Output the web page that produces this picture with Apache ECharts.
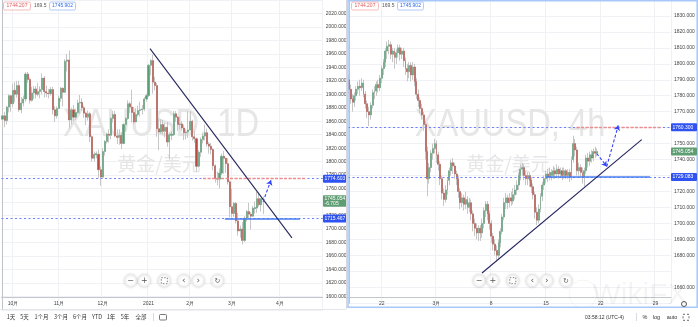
<!DOCTYPE html>
<html><head><meta charset="utf-8">
<script src="https://cdn.jsdelivr.net/npm/echarts@6/dist/echarts.min.js"></script>
<style>html,body{margin:0;padding:0;background:#fff;overflow:hidden}#c{width:698px;height:327px}</style>
</head><body><div id="c"></div>
<script>
// ---------- DATA ----------
// Daily XAUUSD, 2020-09-24 .. 2021-03-22 : [open, close, low, high]
const dailyOHLC = [
[1863,1868,1849,1882],[1868,1861,1851,1874],[1861,1881,1855,1883],[1881,1898,1873,1900],[1898,1886,1874,1899],
[1886,1906,1881,1916],[1906,1900,1888,1918],[1900,1913,1895,1920],[1913,1877,1874,1920],[1877,1887,1872,1896],
[1887,1893,1882,1898],[1893,1930,1889,1933],[1930,1922,1917,1933],[1922,1891,1886,1925],[1891,1902,1889,1911],
[1902,1908,1893,1912],[1908,1900,1894,1912],[1900,1904,1897,1917],[1904,1907,1894,1912],[1907,1924,1900,1931],
[1924,1904,1895,1927],[1904,1902,1896,1913],[1902,1901,1894,1908],[1901,1907,1898,1911],[1907,1877,1870,1911],
[1877,1868,1859,1882],[1868,1879,1864,1882],[1879,1894,1879,1898],[1894,1909,1889,1911],[1909,1903,1882,1910],
[1903,1949,1902,1952],[1949,1951,1934,1960],[1951,1862,1849,1965],[1862,1877,1855,1880],[1877,1866,1860,1884],
[1866,1873,1862,1878],[1873,1887,1871,1892],[1887,1888,1871,1899],[1888,1880,1876,1894],[1880,1872,1865,1883],
[1872,1866,1854,1874],[1866,1871,1861,1876],[1871,1837,1829,1874],[1837,1805,1800,1839],[1805,1811,1800,1815],
[1810,1812,1805,1815],[1811,1788,1775,1818],[1788,1777,1764,1793],[1777,1815,1775,1820],[1815,1830,1809,1832],
[1830,1841,1827,1843],[1841,1839,1828,1848],[1839,1864,1833,1866],[1864,1870,1858,1875],[1870,1838,1836,1875],
[1838,1836,1826,1848],[1836,1839,1825,1848],[1839,1827,1819,1843],[1827,1855,1826,1857],[1855,1864,1845,1866],
[1864,1886,1862,1891],[1886,1881,1872,1889],[1881,1873,1858,1907],[1873,1859,1855,1881],[1859,1870,1858,1879],
[1870,1876,1867,1883],[1876,1877,1867,1889],[1877,1878,1870,1884],[1878,1893,1875,1896],[1893,1898,1889,1901],
[1898,1943,1896,1945],[1943,1950,1928,1952],[1950,1918,1901,1959],[1918,1913,1906,1926],[1913,1849,1837,1917],
[1849,1844,1817,1864],[1844,1855,1841,1863],[1855,1845,1840,1862],[1845,1851,1836,1857],[1851,1829,1822,1859],
[1829,1840,1803,1843],[1839,1841,1832,1845],[1840,1871,1838,1875],[1871,1866,1859,1875],[1866,1855,1846,1868],
[1855,1856,1848,1867],[1856,1850,1846,1860],[1850,1843,1832,1855],[1843,1844,1833,1848],[1844,1847,1835,1875],
[1847,1860,1846,1875],[1860,1837,1831,1862],[1837,1834,1828,1846],[1834,1793,1785,1836],[1793,1814,1791,1817],
[1814,1833,1807,1836],[1833,1838,1827,1842],[1838,1843,1832,1855],[1843,1826,1822,1849],[1826,1823,1812,1829],
[1823,1818,1811,1828],[1818,1794,1787,1820],[1794,1775,1769,1796],[1775,1774,1765,1785],[1774,1783,1760,1790],
[1783,1808,1780,1812],[1808,1805,1782,1816],[1805,1797,1783,1806],[1797,1770,1766,1805],[1770,1733,1717,1772],
[1733,1723,1717,1760],[1723,1738,1718,1740],[1738,1712,1708,1740],[1712,1697,1690,1724],[1697,1700,1687,1705],
[1700,1683,1677,1710],[1683,1716,1681,1719],[1716,1726,1711,1728],[1726,1722,1715,1739],[1722,1719,1699,1725],
[1719,1731,1718,1734],[1730,1732,1723,1741],[1731,1745,1724,1755],[1745,1736,1733,1754],[1736,1745,1726,1746],
[1744,1745.054,1722,1748]
];
// 4h XAUUSD, 2021-02-17 .. 2021-03-19 : [open, close, low, high]
const h4OHLC = [
[1790,1784,1781,1793],[1784,1778,1775,1787],[1778,1776,1770,1781],[1776,1780,1773,1782],[1780,1784,1777,1786],
[1784,1786,1781,1789],[1786,1785,1780,1790],[1785,1788,1783,1791],[1788,1781,1779,1790],[1781,1775,1772,1783],
[1775,1770,1766,1777],[1770,1768,1761,1773],[1768,1774,1765,1776],[1774,1782,1772,1784],[1782,1783,1778,1786],
[1783,1787,1780,1789],[1787,1785,1782,1790],[1785,1791,1783,1793],[1791,1797,1788,1799],[1797,1801,1793,1803],
[1801,1808,1798,1810],[1808,1811,1803,1814],[1811,1812,1806,1815],[1812,1806,1803,1814],[1806,1808,1801,1810],
[1808,1804,1797,1810],[1804,1807,1800,1809],[1807,1810,1804,1812],[1810,1806,1802,1812],[1806,1808,1803,1810],
[1808,1802,1798,1810],[1802,1797,1793,1804],[1797,1795,1789,1800],[1795,1799,1791,1801],[1799,1793,1789,1801],
[1793,1798,1790,1801],[1798,1789,1786,1800],[1789,1781,1778,1791],[1781,1777,1773,1784],[1777,1772,1769,1779],
[1772,1768,1765,1775],[1768,1762,1758,1770],[1762,1745,1740,1764],[1745,1728,1717,1748],[1728,1735,1725,1738],
[1735,1744,1732,1746],[1744,1747,1740,1750],[1747,1750,1744,1753],[1750,1743,1738,1752],[1743,1737,1733,1745],
[1737,1728,1724,1739],[1728,1719,1715,1730],[1719,1715,1711,1722],[1715,1721,1713,1724],[1721,1727,1718,1729],
[1727,1733,1724,1735],[1733,1738,1730,1740],[1738,1736,1731,1741],[1736,1731,1728,1738],[1731,1728,1724,1733],
[1728,1720,1716,1730],[1720,1713,1709,1722],[1713,1716,1710,1719],[1716,1712,1708,1718],[1712,1715,1709,1720],
[1715,1710,1706,1717],[1710,1713,1707,1716],[1713,1706,1702,1715],[1706,1700,1695,1708],[1700,1697,1692,1703],
[1697,1694,1690,1700],[1694,1697,1689,1699],[1697,1694,1689,1699],[1694,1700,1691,1703],[1700,1708,1697,1710],
[1708,1712,1704,1714],[1712,1706,1702,1714],[1706,1700,1696,1708],[1700,1692,1688,1702],[1692,1687,1683,1694],
[1687,1683,1680,1690],[1683,1680,1677,1686],[1680,1688,1678,1690],[1688,1695,1685,1697],[1695,1704,1693,1706],
[1704,1713,1702,1716],[1713,1716,1709,1719],[1716,1713,1709,1718],[1713,1716,1710,1719],[1716,1714,1711,1720],
[1714,1718,1712,1722],[1718,1721,1715,1724],[1721,1724,1718,1727],[1724,1730,1721,1732],[1730,1734,1727,1737],
[1734,1735,1730,1738],[1735,1730,1727,1737],[1730,1728,1724,1733],[1728,1730,1724,1732],[1730,1727,1723,1732],
[1727,1723,1719,1729],[1723,1718,1715,1725],[1718,1707,1703,1720],[1707,1702,1699,1710],[1702,1709,1700,1712],
[1709,1717,1707,1719],[1717,1724,1714,1726],[1724,1728,1721,1730],[1728,1731,1725,1733],[1731,1729,1726,1734],
[1729,1732,1727,1735],[1732,1730,1727,1734],[1730,1733,1728,1736],[1733,1731,1728,1735],[1731,1734,1729,1737],
[1734,1731,1728,1736],[1731,1733,1729,1735],[1733,1730,1727,1735],[1730,1733,1728,1735],[1733,1730,1728,1734],
[1730,1732,1728,1734],[1732,1729,1726,1734],[1729,1740,1727,1742],[1740,1750,1738,1755],[1750,1746,1742,1753],
[1746,1733,1730,1748],[1733,1735,1730,1738],[1735,1732,1729,1737],[1732,1729,1725,1735],[1729,1733,1723,1735],
[1733,1741,1731,1743],[1741,1739,1735,1744],[1739,1743,1736,1745],[1743,1741,1738,1746],[1741,1745,1739,1747],
[1745,1744,1741,1748],[1744,1745.054,1742,1747]
];
// time-axis tick labels: [bar index, label]
const dailyTimeTicks = [[5,'10月'],[27,'11月'],[48,'12月'],[70,'2021'],[90,'2月'],[110,'3月'],[133,'4月']];
const h4TimeTicks = [[18,'22'],[48,'3月'],[78,'8'],[108,'15'],[138,'22'],[168,'29']];
const dailySlots = 154, h4Slots = 177;
// price ticks
const dailyPriceRange = [1600, 2020], dailyPriceStep = 20;
const h4PriceRange = [1660, 1830], h4PriceStep = 10, h4HiddenTicks = [1670];
// levels & drawings
const dailyResistance = 1774.603, dailySupport = 1715.467, dailyLast = 1745.054, dailyChange = -6.705;
const h4Resistance = 1760.300, h4Support = 1729.083, h4Last = 1745.054;
const dailyTrend = [[70.69,1967.9],[138.76,1686.9]];
const dailyResSeg = [96.1,145.5], dailySupSeg = [106.6,142.6];
const dailyArrow = [[124.9,1740.5],[128.7,1772.35]];
const h4Trend = [[72.93,1668.9],[160.44,1752.5]];
const h4ResSeg = [124.7,171.3], h4SupSeg = [108.0,165.0];
const h4Arrow1 = [[135.8,1743.8],[141.3,1735.7]];
const h4Arrow2 = [[141.3,1735.7],[147.6,1761.4]];
const badge = {bid:'1744.207', spread:'169.5', ask:'1745.902'};

// ---------- CHART ----------
const FONT = '"Liberation Sans", Arial, sans-serif';
const CJK = '"Noto Sans CJK SC", sans-serif';
const upC = '#55a074', dnC = '#b84a40', wickC = '#c6c6c6';
const chart = echarts.init(document.getElementById('c'));
const bodies = a => a.map(d => [d[0], d[1], Math.min(d[0], d[1]), Math.max(d[0], d[1])]);

function xCat(grid, n, ticks, offset) {
  const m = new Map(ticks);
  return {type:'category', gridIndex:grid, data:Array.from({length:n}, (_, i) => String(i)), boundaryGap:true, offset,
    axisLine:{lineStyle:{color:'#c3c6cc', width:1}}, axisTick:{show:false},
    axisLabel:{interval:i => m.has(i), formatter:(v) => m.get(Number(v)) || '', fontSize:5, color:'#444', margin:4.5, fontFamily:FONT},
    splitLine:{show:true, interval:i => m.has(i), lineStyle:{color:'#eff1f5', width:1}}};
}
function yVal(grid, range, step, hidden) {
  return {type:'value', gridIndex:grid, position:'right', min:range[0]-step, max:range[1]+step, interval:step,
    axisLine:{show:true, lineStyle:{color:'#bfc2c8'}}, axisTick:{show:false},
    axisLabel:{fontSize:5, color:'#444', margin:3, fontFamily:FONT, showMinLabel:false, showMaxLabel:false,
      formatter:v => (v < range[0] || v > range[1] || hidden.includes(v)) ? '' : v.toFixed(3)},
    splitLine:{lineStyle:{color:'#eff1f5'}}};
}
function candles(xi, yi, data, w) {
  return [
    {type:'candlestick', xAxisIndex:xi, yAxisIndex:yi, data:data, barWidth:w, z:2,
     itemStyle:{color:wickC, color0:wickC, borderColor:wickC, borderColor0:wickC, borderWidth:1}},
    {type:'candlestick', xAxisIndex:xi, yAxisIndex:yi, data:bodies(data), barWidth:w, z:3,
     itemStyle:{color:upC, color0:dnC, borderColor:upC, borderColor0:dnC, borderColor:upC, borderWidth:0.3}}
  ];
}
function seg(xi, yi, coords, color, width, type, arrow) {
  return {type:'lines', coordinateSystem:'cartesian2d', xAxisIndex:xi, yAxisIndex:yi, z:4,
    symbol: arrow ? ['none','arrow'] : 'none', symbolSize:5, silent:true,
    lineStyle:{color, width, type, opacity:1}, data:[{coords}]};
}
const dotBlue = '#6f7dff', solidBlue = '#4a7ef2', redDash = '#ef8d8d', trendC = '#26265e', arrowC = '#3344ff';

const option = {
  animation:false,
  grid:[
    {left:1.5, top:-7.81, width:321.2, height:317.6},
    {left:348, top:-10.51, width:323, height:313.7}
  ],
  xAxis:[
    xCat(0, dailySlots, dailyTimeTicks, -12.8),
    xCat(1, h4Slots, h4TimeTicks, -6.2),
    {type:'value', gridIndex:0, min:-0.5, max:dailySlots-0.5, show:false},
    {type:'value', gridIndex:1, min:-0.5, max:h4Slots-0.5, show:false}
  ],
  yAxis:[ yVal(0, dailyPriceRange, dailyPriceStep, []), yVal(1, h4PriceRange, h4PriceStep, h4HiddenTicks) ],
  series:[
    ...candles(0, 0, dailyOHLC, 1.6),
    ...candles(1, 1, h4OHLC, 1.4),
    seg(2,0,[[-0.5,dailyResistance],[dailySlots-0.5,dailyResistance]], dotBlue, 1, [2,2.5]),
    seg(2,0,[[-0.5,dailySupport],[dailySlots-0.5,dailySupport]], dotBlue, 1, [2,2.5]),
    seg(2,0,[[dailyResSeg[0],dailyResistance],[dailyResSeg[1],dailyResistance]], redDash, 1.4, [3,1.5]),
    seg(2,0,[[dailySupSeg[0],dailySupport],[dailySupSeg[1],dailySupport]], solidBlue, 1.6, 'solid'),
    seg(2,0,dailyTrend, trendC, 1.1, 'solid'),
    seg(2,0,dailyArrow, arrowC, 1.1, [3,2], true),
    seg(3,1,[[-0.5,h4Resistance],[h4Slots-0.5,h4Resistance]], dotBlue, 1, [2,2.5]),
    seg(3,1,[[-0.5,h4Support],[h4Slots-0.5,h4Support]], dotBlue, 1, [2,2.5]),
    seg(3,1,[[h4ResSeg[0],h4Resistance],[h4ResSeg[1],h4Resistance]], redDash, 1.4, [3,1.5]),
    seg(3,1,[[h4SupSeg[0],h4Support],[h4SupSeg[1],h4Support]], solidBlue, 1.6, 'solid'),
    seg(3,1,h4Trend, trendC, 1.1, 'solid'),
    seg(3,1,h4Arrow1, arrowC, 1.1, [3,2], true),
    seg(3,1,h4Arrow2, arrowC, 1.1, [3,2], true)
  ]
};
chart.setOption(option);

// ---------- DECORATIONS (positions from library scales) ----------
const py = (ax, v) => chart.convertToPixel({yAxisIndex:ax}, v);
const G = [];
function txt(x, y, text, size, fill, align, font, z, extra) {
  G.push(Object.assign({type:'text', x, y, z:z==null?100:z, silent:true,
    style:{text, fill, font:size+'px '+(font||FONT), textAlign:align||'left', textVerticalAlign:'middle', align:align||'left', verticalAlign:'middle'}}, extra||{}));
}
function rect(x, y, w, h, fill, stroke, r, z, lw, dash) {
  G.push({type:'rect', z:z==null?100:z, silent:true, shape:{x, y, width:w, height:h, r:r||0},
    style:{fill:fill||'none', stroke:stroke||'none', lineWidth:lw||1, lineDash:dash||null}});
}
function line(x1, y1, x2, y2, stroke, lw, z) {
  G.push({type:'line', z:z==null?100:z, silent:true, shape:{x1, y1, x2, y2}, style:{stroke, lineWidth:lw||1}});
}
function circle(cx, cy, r, fill, stroke, z, shadow) {
  G.push({type:'circle', z:z==null?100:z, silent:true, shape:{cx, cy, r},
    style:Object.assign({fill:fill||'none', stroke:stroke||'none', lineWidth:1}, shadow?{shadowBlur:3, shadowColor:'rgba(0,0,0,0.18)'}:{})});
}
function priceBox(x, w, y, text, fill) { rect(x, y-4, w, 8, fill, null, 1); txt(x+1.5, y, text, 5, '#fff'); }

// watermarks
[[161,'XAUUSD, 1D'],[510,'XAUUSD, 4h']].forEach(([cx, t]) => {
  txt(cx, 126, t, 38, '#e6e6e6', 'center', FONT, 1, {scaleX:0.86});
  txt(cx-2, 164, '黄金/美元', 19, '#e6e6e6', 'center', CJK, 1);
});
txt(640, 296, 'WikiFX', 30, 'rgba(0,0,0,0.045)', 'center', FONT, 1);
circle(583, 294, 14, null, 'rgba(0,0,0,0.045)', 1);

// price boxes
priceBox(323, 23.5, py(0, dailyResistance), dailyResistance.toFixed(3), '#2f52f2');
priceBox(323, 23.5, py(0, dailySupport), dailySupport.toFixed(3), '#2f52f2');
{ const y = py(0, dailyLast); rect(323, y-3.5, 23.5, 11.5, '#5f9d72', null, 1);
  txt(324.5, y, dailyLast.toFixed(3), 5, '#fff'); txt(324.5, y+5, dailyChange.toFixed(3), 5, '#fff'); }
priceBox(671, 26, py(1, h4Resistance), h4Resistance.toFixed(3), '#2f52f2');
priceBox(671, 26, py(1, h4Support), h4Support.toFixed(3), '#2f52f2');
priceBox(671, 26, py(1, h4Last), h4Last.toFixed(3), '#5f9d72');

// top-left badges
[0, 348].forEach(o => {
  rect(o+3.5, 2, 27, 8, '#fff', '#f3a9a9', 1.5, 100, 0.8); txt(o+17, 6, badge.bid, 5, '#e05a5a', 'center');
  txt(o+34, 6, badge.spread, 5, '#555');
  rect(o+49.5, 2, 26, 8, '#fff', '#9dbdf5', 1.5, 100, 0.8); txt(o+62.5, 6, badge.ask, 5, '#2f6bea', 'center');
});

// navigation buttons
[0, 348.5].forEach(o => {
  const xs = [130.7,144.3,164.3,183.7,198.3,217.5].map(v => v+o), y = 280.7;
  xs.forEach(x => circle(x, y, 6, '#fff', '#ececec', 100, true));
  txt(xs[0], y, '−', 8, '#555', 'center', 'DejaVu Sans', 101);
  txt(xs[1], y, '+', 8, '#555', 'center', 'DejaVu Sans', 101);
  rect(xs[2]-3, y-3, 6, 6, null, '#666', 0, 101, 0.8, [1.5,1.5]);
  txt(xs[3], y, '‹', 9, '#555', 'center', 'DejaVu Sans', 101);
  txt(xs[4], y, '›', 9, '#555', 'center', 'DejaVu Sans', 101);
  txt(xs[5], y, '↻', 7, '#555', 'center', 'DejaVu Sans', 101);
});

// bottom toolbars
[[11,'1天'],[24.5,'5天'],[41.5,'1个月'],[61,'3个月'],[80,'6个月'],[97,'YTD'],[111,'1年'],[125,'5年'],[141,'全部']]
  .forEach(([x, t]) => txt(x, 317.3, t, 5.5, '#333', 'center', CJK));
line(153.5, 313, 153.5, 321, '#d8dbe0', 1);
rect(159.5, 314.5, 7, 5.5, null, '#555', 1, 100, 0.8);
txt(604.5, 317.3, '03:58:12 (UTC-4)', 5, '#333', 'center');
line(636.5, 313, 636.5, 321, '#d8dbe0', 1);
txt(645, 317.3, '%', 5.5, '#333', 'center');
txt(656.5, 317.3, 'log', 5.5, '#333', 'center');
txt(672, 317.3, 'auto', 5.5, '#333', 'center');
rect(683, 314.3, 6, 6, null, '#444', 0, 100, 0.8, [2,2]);
circle(684, 304, 2.5, null, '#555', 100);

// frames
line(0, 309.5, 346, 309.5, '#e3e5ea', 1);
line(346.5, 0, 346.5, 309, '#d5d8de', 1);
rect(348, 0.75, 349.2, 306.5, null, '#a7c8f8', 0, 99, 1.5);

chart.setOption({graphic:{elements:G}});
</script></body></html>
